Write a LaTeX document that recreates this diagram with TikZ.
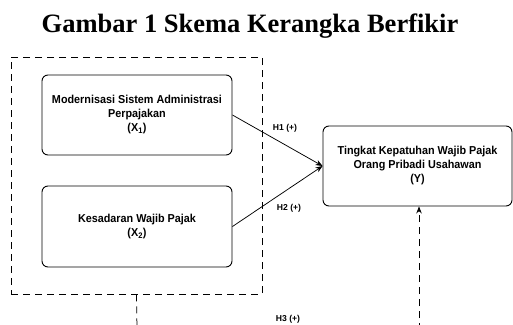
\documentclass[tikz,border=0pt]{standalone}
\usepackage{fontspec}
\setmainfont{Liberation Sans}
\newfontfamily\boxfont[FakeStretch=0.94]{Liberation Sans}
\newfontfamily\titlefont{Liberation Serif}
\usetikzlibrary{arrows.meta}
\begin{document}
\begin{tikzpicture}[x=1pt,y=-1pt,
  varbox/.style={draw,rounded corners=6pt,line width=0.9pt,minimum width=190pt,minimum height=80pt,align=center,font=\boxfont\bfseries\fontsize{11.5}{14}\selectfont,inner sep=0pt},
  hlabel/.style={font=\bfseries\fontsize{8.6}{9}\selectfont,inner sep=0pt},
  dashline/.style={dash pattern=on 7pt off 5pt,line width=0.75pt},
  arr/.style={-{Stealth[length=7pt,width=5.5pt]},line width=0.75pt}]
\useasboundingbox (0,0) rectangle (513,324);
\node[font=\titlefont\bfseries\fontsize{26.5}{30}\selectfont,anchor=base] (title) at (250,32) {Gambar 1 Skema Kerangka Berfikir};
\node[draw,dashline,minimum width=251pt,minimum height=237pt,inner sep=0pt] (grp) at (136.5,175.5) {};
\node[varbox] (x1) at (137,115) {Modernisasi Sistem Administrasi\\Perpajakan\\(X\textsubscript{1})};
\node[varbox,minimum height=81pt] (x2) at (137,226.5) {Kesadaran Wajib Pajak\\(X\textsubscript{2})};
\node[varbox,minimum width=189pt] (y) at (417.5,166) {Tingkat Kepatuhan Wajib Pajak\\Orang Pribadi Usahawan\\(Y)};
\coordinate (meet) at (y.west);
\draw[arr] (x1.east) -- (meet);
\draw[arr] (x2.east) -- (meet);
\coordinate (h3a) at (137,330);
\draw[dashline] (grp.south) -- (h3a);
\coordinate (h3b) at (419,330);
\draw[dashline,arr] (h3b) -- (h3b |- y.south);
\node[hlabel] (h1) at (285,128) {H1 (+)};
\node[hlabel] (h2) at (289,208) {H2 (+)};
\node[hlabel] (h3) at (288,319) {H3 (+)};
\end{tikzpicture}
\end{document}
